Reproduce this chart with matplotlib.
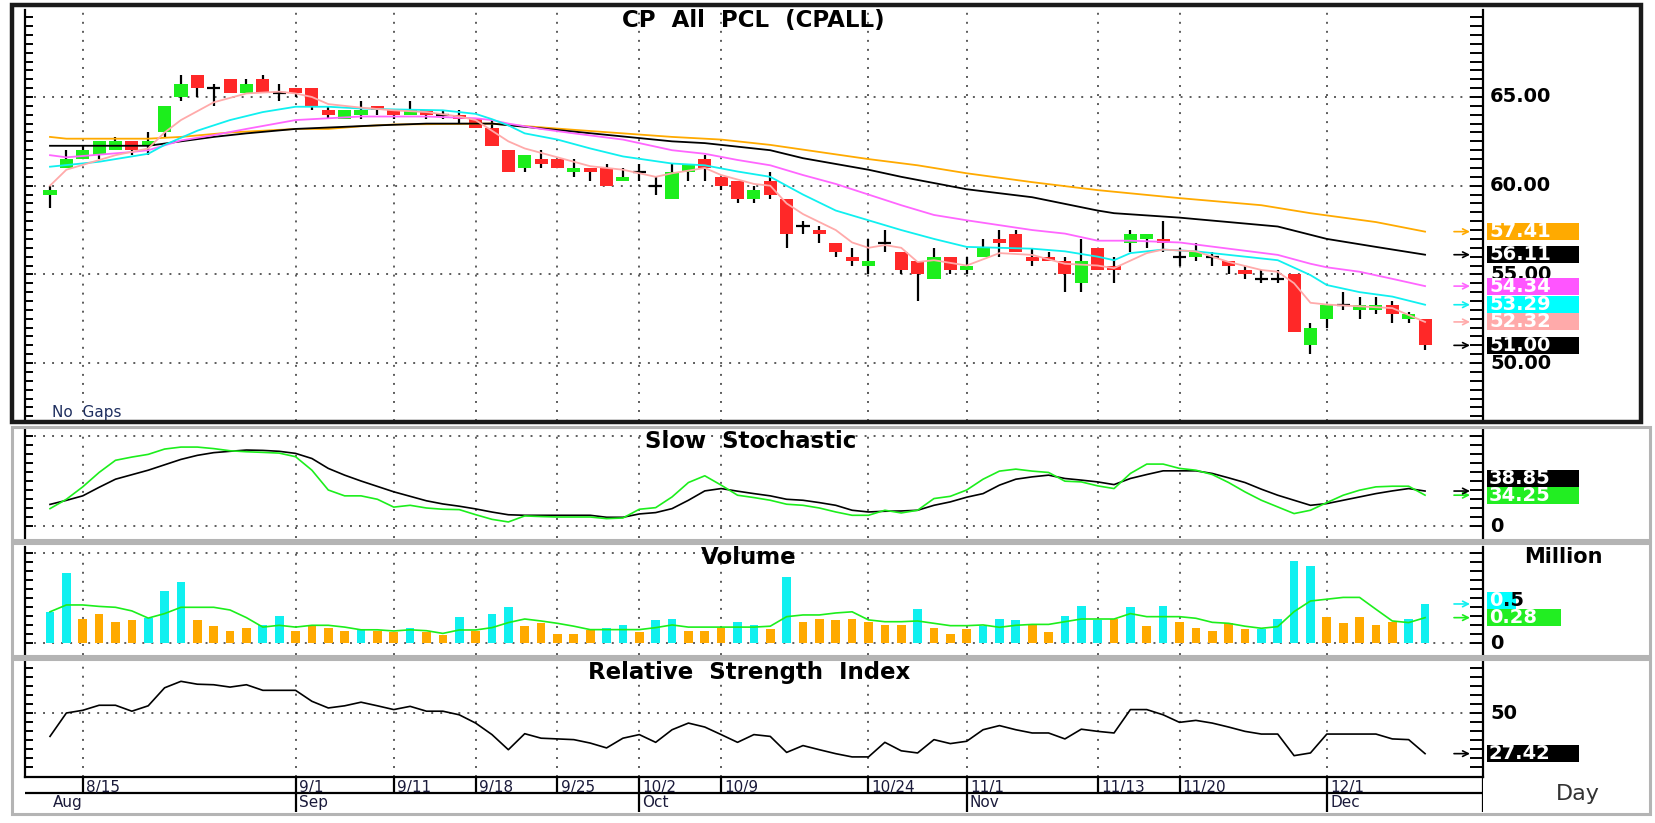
import numpy as np
import matplotlib
matplotlib.use('Agg')
import matplotlib.pyplot as plt
from matplotlib.patches import Rectangle
import matplotlib.transforms as mtransforms

# ---- daily candles (CPALL), one row per trading day ----
opens = [59.5, 61.0, 61.5, 61.75, 62.0, 62.5, 62.25, 63.0, 65.0, 66.25,
         65.5, 66.0, 65.25, 66.0, 65.25, 65.5, 65.5, 64.25, 63.75, 64.0,
         64.5, 64.25, 64.0, 64.25, 64.0, 64.0, 63.75, 63.25, 62.0, 61.0,
         61.5, 61.5, 60.75, 61.0, 61.0, 60.25, 60.75, 60.0, 59.25, 60.75,
         61.5, 60.5, 60.25, 59.25, 60.25, 59.25, 57.75, 57.5, 56.75, 56.0,
         55.5, 56.75, 56.25, 55.75, 54.75, 56.0, 55.25, 56.0, 57.0, 57.25,
         56.0, 56.0, 55.75, 54.5, 56.5, 55.5, 56.75, 57.0, 57.0, 56.0,
         56.0, 56.0, 55.75, 55.25, 54.75, 54.75, 55.0, 51.0, 52.5, 53.25,
         53.0, 53.0, 53.25, 52.5, 52.5]
highs = [60.0, 62.0, 62.25, 62.5, 62.75, 62.5, 63.0, 64.5, 66.25, 66.25,
         65.75, 66.0, 66.0, 66.25, 65.75, 65.5, 65.5, 64.5, 64.25, 64.75,
         64.5, 64.25, 64.75, 64.25, 64.25, 64.25, 63.75, 63.75, 62.0, 61.75,
         62.0, 61.5, 61.5, 61.0, 61.25, 61.0, 61.25, 60.5, 61.25, 61.25,
         61.75, 60.5, 60.25, 60.0, 60.75, 59.25, 58.0, 57.75, 56.75, 56.5,
         57.0, 57.5, 56.25, 55.75, 56.5, 56.0, 56.0, 57.0, 57.5, 57.5,
         56.5, 56.25, 56.0, 57.0, 56.5, 56.0, 57.5, 57.25, 58.0, 56.5,
         56.75, 56.25, 55.75, 55.5, 55.25, 55.25, 55.0, 52.25, 53.25, 54.0,
         53.75, 53.75, 53.5, 52.9, 52.5]
lows = [58.75, 61.0, 61.5, 61.5, 62.0, 61.75, 61.75, 62.75, 64.75, 65.0,
        64.5, 65.25, 65.25, 65.25, 64.75, 65.0, 64.25, 63.75, 63.75, 63.75,
        64.0, 63.75, 64.0, 63.75, 63.75, 63.5, 63.25, 62.25, 60.75, 60.75,
        61.0, 61.0, 60.5, 60.25, 60.0, 60.25, 60.25, 59.5, 59.25, 60.25,
        60.25, 59.75, 59.0, 59.0, 59.25, 56.5, 57.25, 56.75, 56.0, 55.5,
        55.0, 56.25, 55.0, 53.5, 54.75, 55.0, 55.0, 56.0, 56.0, 56.25,
        55.5, 55.75, 54.0, 54.0, 55.25, 54.5, 56.25, 56.5, 56.25, 55.5,
        55.75, 55.5, 55.0, 54.75, 54.5, 54.5, 51.75, 50.5, 52.0, 53.0,
        52.5, 52.75, 52.25, 52.25, 50.75]
closes = [59.75, 61.5, 62.0, 62.5, 62.5, 62.0, 62.5, 64.5, 65.75, 65.5,
          65.5, 65.25, 65.75, 65.25, 65.25, 65.25, 64.5, 64.0, 64.25, 64.25,
          64.25, 64.0, 64.25, 64.0, 64.0, 63.75, 63.25, 62.25, 60.75, 61.75,
          61.25, 61.0, 61.0, 60.75, 60.0, 60.5, 60.75, 60.0, 60.75, 61.25,
          61.0, 60.0, 59.25, 59.75, 59.5, 57.25, 57.75, 57.25, 56.25, 55.75,
          55.75, 56.75, 55.25, 55.0, 56.0, 55.25, 55.5, 56.5, 56.75, 56.25,
          55.75, 55.75, 55.0, 55.75, 55.25, 55.25, 57.25, 57.25, 56.75, 56.0,
          56.25, 56.0, 55.5, 55.0, 54.75, 54.75, 51.75, 52.0, 53.25, 53.25,
          53.25, 53.25, 52.75, 52.75, 51.0]

# ---- moving averages on the price panel (read at selected days) ----
ma5_idx = [0, 1, 4, 6, 7, 8, 10, 12, 14, 15, 16, 17, 19, 21, 23, 25, 26, 27, 28, 29,
           31, 33, 35, 37, 38, 40, 41, 43, 44, 45, 46, 48, 49, 50, 51, 52, 53, 54, 56, 58,
           60, 62, 64, 65, 67, 68, 70, 72, 74, 75, 76, 77, 78, 80, 82, 84]
ma5_val = [60.0, 60.9, 61.72, 62.1, 63.0, 63.7, 64.7, 65.2, 65.3, 65.2, 65.0, 64.6, 64.4, 64.25,
           64.15, 63.9, 63.7, 63.1, 62.5, 62.1, 61.6, 61.1, 60.9, 60.5, 60.7, 61.0, 60.6, 60.1,
           60.0, 59.0, 58.4, 57.5, 56.8, 56.5, 56.65, 56.5, 55.7, 55.8, 55.5, 56.2, 56.1, 55.6,
           55.5, 55.35, 56.2, 56.4, 56.3, 55.7, 55.25, 55.15, 54.5, 53.4, 53.3, 53.2, 53.1, 52.32]
ma10_idx = [0, 3, 6, 7, 9, 11, 13, 15, 17, 19, 21, 24, 26, 27, 28, 29, 31, 33, 35, 38,
            40, 42, 44, 46, 48, 50, 52, 54, 56, 60, 62, 64, 65, 66, 68, 70, 72, 75, 77, 78,
            80, 82, 84]
ma10_val = [61.07, 61.35, 61.8, 62.3, 63.1, 63.7, 64.15, 64.45, 64.45, 64.35, 64.3, 64.25,
            64.05, 63.75, 63.4, 62.95, 62.6, 62.1, 61.65, 61.25, 61.15, 60.8, 60.5, 59.5, 58.6,
            58.05, 57.5, 57.0, 56.55, 56.45, 56.3, 56.0, 55.8, 56.2, 56.4, 56.3, 56.1, 55.8,
            54.96, 54.4, 54.0, 53.75, 53.29]
ma25_idx = [0, 1, 5, 6, 8, 10, 12, 15, 17, 19, 23, 26, 27, 28, 30, 32, 35, 38, 40, 42,
            44, 46, 48, 50, 52, 54, 56, 60, 62, 64, 66, 69, 72, 75, 77, 78, 80, 82, 84]
ma25_val = [61.72, 61.6, 61.9, 62.0, 62.55, 62.85, 63.2, 63.7, 63.8, 63.9, 63.9, 63.8, 63.7,
            63.5, 63.2, 62.95, 62.6, 62.0, 61.8, 61.45, 61.15, 60.6, 60.1, 59.5, 58.9, 58.35,
            58.05, 57.5, 57.3, 56.9, 56.9, 56.8, 56.45, 56.1, 55.6, 55.4, 55.15, 54.75, 54.34]
ma50_idx = [0, 6, 8, 10, 12, 15, 20, 23, 27, 32, 38, 40, 44, 46, 50, 52, 56, 60, 64, 65,
            69, 72, 75, 78, 81, 84]
ma50_val = [62.25, 62.25, 62.5, 62.75, 62.95, 63.2, 63.4, 63.5, 63.5, 63.05, 62.5, 62.4, 62.0,
            61.55, 60.9, 60.5, 59.8, 59.35, 58.6, 58.45, 58.2, 57.95, 57.7, 57.0, 56.55, 56.11]
ma75_idx = [0, 1, 6, 8, 11, 15, 17, 19, 21, 27, 32, 35, 38, 41, 44, 47, 50, 53, 56, 60,
            64, 69, 74, 77, 81, 84]
ma75_val = [62.75, 62.65, 62.65, 62.75, 63.0, 63.2, 63.2, 63.35, 63.45, 63.5, 63.15, 62.95,
            62.75, 62.6, 62.3, 61.9, 61.5, 61.15, 60.7, 60.2, 59.75, 59.3, 58.9, 58.45, 57.95,
            57.41]

# ---- slow stochastic ----
stoch_d = [24, 28.5, 33.5, 43, 52, 57, 62, 68, 74, 78.5, 81.5, 83, 84.4, 84, 83, 80.7, 75, 64,
           56.5, 50, 44, 38, 33, 28, 24.5, 22, 19, 15.5, 12.5, 11.9, 11.9, 11.9, 11.9, 11.9,
           9.7, 9.7, 13.4, 14.9, 19.3, 28.6, 39, 41.6, 38.7, 36, 33.5, 29.7, 28.6, 26, 23,
           17.5, 15.6, 16.4, 16.7, 17.5, 23, 26.8, 32, 36, 45.4, 52, 54.6, 56.5, 52.8, 51, 49,
           46, 52.8, 57.2, 61.3, 61.3, 61.3, 58.4, 53.5, 48.3, 40.9, 34.2, 28.6, 23, 24.9,
           28.6, 32.3, 36, 39, 41.6, 38.85]
stoch_k = [19.3, 29.7, 43.5, 59.5, 73, 76.6, 79.6, 85.5, 87.7, 87.7, 86, 83.6, 82.5, 81.8, 81,
           77, 62, 40, 33.5, 33.5, 29.7, 21, 23, 20, 18.6, 18.2, 12.6, 7.4, 4.5, 11.2, 10.5,
           10, 10, 10, 8.2, 8.9, 18.6, 20.4, 32.3, 48.3, 55.8, 45.4, 34.2, 31.6, 28.6, 24.2,
           23, 20, 15.6, 11.9, 11.9, 17.5, 14.5, 17.5, 30.5, 33, 40, 52, 61, 63.2, 61, 59.5,
           49.8, 49, 44.6, 41.6, 58.4, 68.8, 68.8, 64, 62, 57.2, 48.3, 37.9, 28.6, 21.2, 13.8,
           17.5, 26, 34.2, 39.8, 43.5, 44.2, 44.2, 34.25]

# ---- volume (million shares); u = above its average (cyan), d = below (orange) ----
volume = [0.35, 0.785, 0.27, 0.33, 0.237, 0.255, 0.278, 0.585, 0.685, 0.255, 0.19, 0.14,
          0.174, 0.204, 0.304, 0.14, 0.19, 0.174, 0.14, 0.148, 0.14, 0.126, 0.174, 0.126,
          0.093, 0.289, 0.14, 0.322, 0.404, 0.19, 0.222, 0.107, 0.107, 0.152, 0.174, 0.204,
          0.122, 0.255, 0.27, 0.14, 0.14, 0.174, 0.237, 0.204, 0.156, 0.733, 0.237, 0.27,
          0.255, 0.27, 0.237, 0.204, 0.204, 0.385, 0.174, 0.107, 0.156, 0.196, 0.27, 0.255,
          0.21, 0.122, 0.304, 0.418, 0.255, 0.27, 0.404, 0.19, 0.418, 0.237, 0.174, 0.14,
          0.222, 0.156, 0.156, 0.27, 0.915, 0.863, 0.289, 0.222, 0.289, 0.204, 0.237, 0.27,
          0.437]
vol_side = list('uu' 'dddd' 'uuu' 'dddd' 'uu' 'dddd' 'u' 'dd' 'u' 'dd' 'u' 'd' 'uu'
                'ddddd' 'uu' 'd' 'uu' 'ddd' 'uu' 'd' 'u' 'ddddddd' 'u' 'ddd'
                'uuu' 'dd' 'uuu' 'd' 'u' 'd' 'u' 'ddddd' 'uuuu' 'ddddd' 'uu')
vol_avg = [0.35, 0.426, 0.426, 0.41, 0.40, 0.36, 0.28, 0.33, 0.40, 0.40, 0.40, 0.37, 0.285,
           0.18, 0.20, 0.18, 0.20, 0.20, 0.18, 0.15, 0.15, 0.137, 0.15, 0.14, 0.11, 0.148,
           0.148, 0.174, 0.23, 0.27, 0.248, 0.222, 0.19, 0.152, 0.152, 0.152, 0.152, 0.174,
           0.204, 0.18, 0.18, 0.18, 0.18, 0.18, 0.19, 0.296, 0.315, 0.315, 0.337, 0.35, 0.26,
           0.24, 0.24, 0.248, 0.222, 0.196, 0.196, 0.204, 0.178, 0.20, 0.21, 0.21, 0.24, 0.27,
           0.27, 0.27, 0.33, 0.296, 0.296, 0.296, 0.278, 0.233, 0.222, 0.19, 0.167, 0.185,
           0.352, 0.47, 0.49, 0.51, 0.51, 0.378, 0.248, 0.23, 0.285]

# ---- RSI ----
rsi = [37, 50, 51.5, 54.3, 54.3, 51, 54, 64, 67.6, 66, 65.7, 64.4, 65.7, 62.6, 62.6, 62.6,
       56.5, 52.8, 54, 56, 54, 51.9, 53.7, 51, 51, 49, 44.4, 38, 29.6, 38.5, 36, 35.6, 35.2,
       33.3, 30.6, 36, 38, 33.7, 40.7, 44.4, 42.2, 38, 33.7, 38, 37, 28.1, 31.9, 29.6, 27.4,
       25.6, 25.6, 33.7, 29, 27.8, 35.2, 33, 34.3, 40.7, 43, 40.7, 38.9, 38.9, 35.6, 41, 39.8,
       38.9, 51.9, 51.9, 49, 44.8, 45.9, 44.4, 42.2, 39.8, 38.3, 38.3, 26.3, 27.8, 38.3, 38.3,
       38.3, 38.3, 35.6, 35.2, 27.42]

# ---- date axis ----
tick_days = [2, 15, 21, 26, 31, 36, 41, 50, 56, 64, 69, 78]
tick_labels = ['8/15', '9/1', '9/11', '9/18', '9/25', '10/2', '10/9', '10/24', '11/1',
               '11/13', '11/20', '12/1']
month_days = [0, 15, 36, 56, 78]
month_labels = ['Aug', 'Sep', 'Oct', 'Nov', 'Dec']

W, H = 1655, 823
plt.rcParams['lines.scale_dashes'] = False
plt.rcParams['font.family'] = ['DejaVu Sans']

GREEN = '#1cee1c'
RED = '#ff2828'
CYAN = '#10f0f0'
ORANGE = '#ffaa00'
MAGENTA = '#ff66ff'
PINK = '#ffaaaa'
DOT = (0, (1.4, 5.1))

fig = plt.figure(figsize=(W / 100, H / 100), dpi=100)


def rect(x0, y0, x1, y1):
    return [x0 / W, 1 - y1 / H, (x1 - x0) / W, (y1 - y0) / H]


def frame(x0, y0, x1, y1, color, lw):
    fig.patches.append(Rectangle((x0 / W, 1 - y1 / H), (x1 - x0) / W, (y1 - y0) / H,
                                 transform=fig.transFigure, fill=False,
                                 edgecolor=color, linewidth=lw, zorder=5))


# panel frames
frame(12, 5, 1641, 422, '#1a1a1a', 3.2)
frame(12, 427, 1650, 540, '#b4b4b4', 2.2)
frame(12, 543, 1650, 656, '#b4b4b4', 2.2)
frame(12, 659, 1650, 814, '#b4b4b4', 2.2)

XL = (-1.527, 87.54)
ax_p = fig.add_axes(rect(25, 10, 1483, 421))
ax_s = fig.add_axes(rect(25, 430, 1483, 538))
ax_v = fig.add_axes(rect(25, 547, 1483, 655))
ax_r = fig.add_axes(rect(25, 658, 1483, 777))
ax_d = fig.add_axes(rect(25, 777, 1483, 812))

panels = [(ax_p, (46.736, 69.904), np.arange(47, 69.6, 0.5), [50, 55, 60, 65]),
          (ax_s, (-13.33, 106.67), np.arange(0, 101, 10), [0, 100]),
          (ax_v, (-0.13, 1.07), np.arange(0, 1.01, 0.1), [0, 1.0]),
          (ax_r, (14.44, 80.56), np.arange(20, 76, 5), [50])]

for ax, yl, ticks, grid in panels:
    ax.set_xlim(XL)
    ax.set_ylim(yl)
    ax.set_facecolor('none')
    ax.set_xticks([])
    ax.set_yticks([])
    for s in ['top', 'bottom']:
        ax.spines[s].set_visible(False)
    for s in ['left', 'right']:
        ax.spines[s].set_linewidth(1.6)
    ytr = ax.get_yaxis_transform()
    ax.hlines(ticks, 0, 8 / 1458, transform=ytr, color='black', lw=1.4, clip_on=False)
    ax.hlines(ticks, 1 - 13 / 1458, 1, transform=ytr, color='black', lw=1.4, clip_on=False)
    for g in grid:
        ax.axhline(g, color='#303030', lw=1.1, ls=DOT, zorder=1)
    for d in tick_days:
        ax.axvline(d, color='#303030', lw=1.1, ls=DOT, zorder=1)

ax_r.spines['bottom'].set_visible(True)
ax_r.spines['bottom'].set_linewidth(1.6)

# ---- candles ----
x = np.arange(len(closes))
for i in x:
    o, h, l, c = opens[i], highs[i], lows[i], closes[i]
    ax_p.vlines(i, l, h, color='black', lw=1.6, zorder=3)
    if c == o:
        ax_p.hlines(c, i - 0.4, i + 0.4, color='black', lw=1.6, zorder=4)
    else:
        col = GREEN if c > o else RED
        ax_p.add_patch(Rectangle((i - 0.4, min(o, c)), 0.8, abs(c - o), facecolor=col,
                                 edgecolor='none', zorder=4))

for idx, val, col in [(ma75_idx, ma75_val, ORANGE), (ma50_idx, ma50_val, 'black'),
                      (ma25_idx, ma25_val, MAGENTA), (ma10_idx, ma10_val, CYAN),
                      (ma5_idx, ma5_val, PINK)]:
    ax_p.plot(idx, val, color=col, lw=1.3, zorder=5)

# ---- stochastic ----
ax_s.plot(x, stoch_d, color='black', lw=1.2, zorder=3)
ax_s.plot(x, stoch_k, color=GREEN, lw=1.2, zorder=4)

# ---- volume ----
vcols = [CYAN if s == 'u' else ORANGE for s in vol_side]
ax_v.bar(x, volume, width=0.53, color=vcols, zorder=3)
ax_v.plot(x, vol_avg, color=GREEN, lw=1.2, zorder=4)

# ---- RSI ----
ax_r.plot(x, rsi, color='black', lw=1.2, zorder=3)

# ---- date strip ----
ax_d.set_xlim(XL)
ax_d.set_ylim(0, 1)
ax_d.axis('off')
mid = (812 - 793) / 35
ax_d.hlines(mid, XL[0], XL[1], color='black', lw=1.6)
ax_d.vlines(XL[1], 0, 1, color='black', lw=1.6)
for d, lab in zip(tick_days, tick_labels):
    ax_d.vlines(d, 0 if d in month_days else mid, 1, color='black', lw=1.6)
    ax_d.text(d + 0.2, 0.70, lab, fontsize=11, color='#1a1a3a', va='center', ha='left')
for d, lab in zip(month_days, month_labels):
    ax_d.text(d + 0.2, 0.27, lab, fontsize=11, color='#1a1a3a', va='center', ha='left')


# ---- right side labels ----
def ytr_fig(ax):
    return mtransforms.blended_transform_factory(fig.transFigure, ax.transData)


def axis_label(ax, y, s):
    ax.text(1490 / W, y, s, transform=ytr_fig(ax), fontsize=14, fontweight='bold',
            va='center', ha='left', color='black', zorder=6)


def value_box(ax, y, s, fc, h, arrow_y=None, arrow_c=None, wpx=92, tc='white'):
    tr = ytr_fig(ax)
    ax.add_patch(Rectangle((1487 / W, y - h / 2), wpx / W, h, transform=tr, facecolor=fc,
                           edgecolor='none', clip_on=False, zorder=7))
    ax.text(1489 / W, y, s, transform=tr, fontsize=14, fontweight='bold', color=tc,
            va='center', ha='left', zorder=8)
    if arrow_y is not None:
        ax.annotate('', xy=(1470 / W, arrow_y), xytext=(1454 / W, arrow_y),
                    xycoords=tr, textcoords=tr, annotation_clip=False,
                    arrowprops=dict(arrowstyle='->', color=arrow_c, lw=1.2,
                                    shrinkA=0, shrinkB=0))


for p in [65, 60, 55, 50]:
    axis_label(ax_p, p, f'{p:.2f}')

hp = 17 / 17.74
value_box(ax_p, ma75_val[-1], f'{ma75_val[-1]:.2f}', ORANGE, hp, ma75_val[-1], ORANGE)
value_box(ax_p, ma50_val[-1], f'{ma50_val[-1]:.2f}', 'black', hp, ma50_val[-1], 'black')
value_box(ax_p, ma25_val[-1], f'{ma25_val[-1]:.2f}', '#ff55ff', hp, ma25_val[-1], MAGENTA)
value_box(ax_p, ma10_val[-1], f'{ma10_val[-1]:.2f}', '#00ffff', hp, ma10_val[-1], CYAN)
value_box(ax_p, ma5_val[-1], f'{ma5_val[-1]:.2f}', PINK, hp, ma5_val[-1], PINK)
value_box(ax_p, closes[-1], f'{closes[-1]:.2f}', 'black', hp, closes[-1], 'black')

hs = 17 / 0.9
axis_label(ax_s, 0, '0')
value_box(ax_s, stoch_k[-1], f'{stoch_k[-1]:.2f}', '#22ee22', hs, stoch_k[-1], GREEN)
value_box(ax_s, stoch_k[-1] + hs, f'{stoch_d[-1]:.2f}', 'black', hs, stoch_d[-1], 'black')

hv = 17 / 90
axis_label(ax_v, 0, '0')
value_box(ax_v, vol_avg[-1], f'{vol_avg[-1]:.2f}', '#22ee22', hv, vol_avg[-1], GREEN, wpx=74)
value_box(ax_v, vol_avg[-1] + hv, '0', '#00ffff', hv, volume[-1], CYAN, wpx=29)
ax_v.text(1503 / W, vol_avg[-1] + hv, '.5', transform=ytr_fig(ax_v), fontsize=14,
          fontweight='bold', color='black', va='center', ha='left', zorder=8)

hr = 17 / 1.8
axis_label(ax_r, 50, '50')
value_box(ax_r, rsi[-1], f'{rsi[-1]:.2f}', 'black', hr, rsi[-1], 'black')

# ---- titles / captions ----
fig.text(753 / W, 1 - 20 / H, 'CP  All  PCL  (CPALL)', fontsize=16.5, fontweight='bold',
         ha='center', va='center')
fig.text(751 / W, 1 - 441 / H, 'Slow  Stochastic', fontsize=16.5, fontweight='bold',
         ha='center', va='center')
fig.text(749 / W, 1 - 557 / H, 'Volume', fontsize=16.5, fontweight='bold',
         ha='center', va='center')
fig.text(749 / W, 1 - 673 / H, 'Relative  Strength  Index', fontsize=16.5, fontweight='bold',
         ha='center', va='center')
fig.text(52 / W, 1 - 413 / H, 'No  Gaps', fontsize=11, color='#1f2f5f',
         ha='left', va='center')
fig.text(1563 / W, 1 - 557 / H, 'Million', fontsize=15, fontweight='bold',
         ha='center', va='center')
fig.text(1578 / W, 1 - 794 / H, 'Day', fontsize=16, color='#333333',
         ha='center', va='center')

fig.savefig('out.png', dpi=100, facecolor='white')
